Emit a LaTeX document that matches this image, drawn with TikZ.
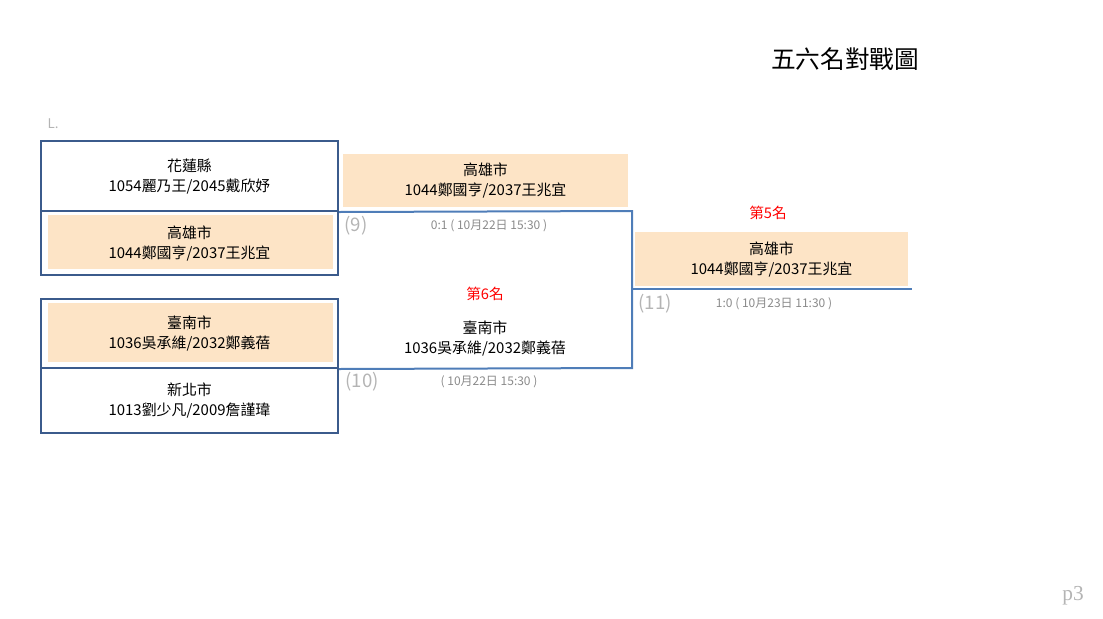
\documentclass[tikz,border=0pt]{standalone}
\usepackage{fontspec}
\setmainfont{Noto Sans CJK TC}
\newfontfamily\pagefont{Liberation Serif}
\usetikzlibrary{positioning}

\definecolor{boxblue}{HTML}{3B5B8C}
\definecolor{lineblue}{HTML}{4F7DB8}
\definecolor{winfill}{HTML}{FDE4C6}
\definecolor{labelgray}{HTML}{B4B4B4}
\definecolor{timegray}{HTML}{8A8A8A}

\tikzset{
  team/.style={align=center, font=\fontsize{11.2}{15}\selectfont, inner sep=0pt},
  teambox/.style={team, draw=boxblue, line width=1.5pt, minimum width=222.75pt},
  winner/.style={path picture={\fill[winfill]
      ([xshift=5.25pt,yshift=4.5pt]path picture bounding box.south west) rectangle
      ([xshift=-3.75pt,yshift=-3pt]path picture bounding box.north east);}},
  winfilled/.style={team, fill=winfill},
  bracket/.style={draw=lineblue, line width=1.5pt},
  gamenum/.style={text=labelgray, font=\fontsize{14}{14}\selectfont},
  gametime/.style={text=timegray, font=\fontsize{9}{9}\selectfont},
  place/.style={text=red, font=\fontsize{11}{11}\selectfont}
}

\begin{document}
\begin{tikzpicture}[x=0.75pt,y=-0.75pt]
  \useasboundingbox (0,0) rectangle (1103,618);

  % title and page mark
  \node[font=\fontsize{18.5}{18.5}\selectfont] (title) at (845,59) {五六名對戰圖};
  \node[text=labelgray, font=\fontsize{10}{10}\selectfont] (lmark) at (53,124) {L.};
  \node[text=labelgray, font=\pagefont\fontsize{16}{16}\selectfont] (page) at (1073,596) {p3};

  % first round
  \node[teambox, minimum height=52.5pt] (t1) at (189.5,176) {花蓮縣\\1054麗乃王/2045戴欣妤};
  \node[teambox, winner, minimum height=48pt] (t2) at (189.5,243) {高雄市\\1044鄭國亨/2037王兆宜};
  \node[teambox, winner, minimum height=51.75pt] (t3) at (189.5,333.5) {臺南市\\1036吳承維/2032鄭義蓓};
  \node[teambox, minimum height=48.75pt] (t4) at (189.5,400.5) {新北市\\1013劉少凡/2009詹謹瑋};

  % semi round
  \coordinate (j9) at (632,211);
  \coordinate (j10) at (632,368);
  \coordinate (j11) at (632,289);
  \coordinate (fin) at (912,289);
  \draw[bracket] (t1.south east) -- (j9) -- (j10) -- (t3.south east);

  \node[winfilled, minimum width=213.75pt, minimum height=39.75pt] (w9) at (485.5,180.5) {高雄市\\1044鄭國亨/2037王兆宜};
  \node[gamenum] (g9) at (356,226) {(9)};
  \node[gametime] (s9) at (489,226) {0:1 ( 10月22日 15:30 )};
  \node[place] (p6) at (485,294) {第6名};
  \node[team] (l6) at (485,338) {臺南市\\1036吳承維/2032鄭義蓓};
  \node[gamenum] (g10) at (362,382) {(10)};
  \node[gametime] (s10) at (489,382) {( 10月22日 15:30 )};

  % final
  \draw[bracket] (j11) -- (fin);
  \node[place] (p5) at (768,213) {第5名};
  \node[winfilled, minimum width=204.75pt, minimum height=40.5pt] (w11) at (771.5,259) {高雄市\\1044鄭國亨/2037王兆宜};
  \node[gamenum] (g11) at (655,304) {(11)};
  \node[gametime] (s11) at (774,304) {1:0 ( 10月23日 11:30 )};
\end{tikzpicture}
\end{document}
